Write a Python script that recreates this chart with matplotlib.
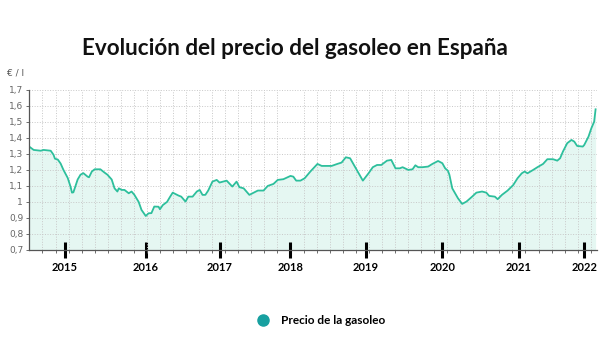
import numpy as np
import matplotlib.pyplot as plt
from matplotlib.lines import Line2D

# Semanas desde el inicio de la serie y precio medio del gasoleo (EUR/l)
semanas = [0, 3, 8, 10, 15, 17, 18, 20, 22, 24, 27, 29, 30, 31, 34, 36, 38, 41, 42, 44,
           46, 50, 53, 55, 58, 60, 62, 63, 65, 67, 70, 72, 74, 77, 79, 82, 84, 86, 88, 91,
           92, 94, 97, 99, 101, 105, 107, 110, 112, 115, 118, 120, 122, 124, 126, 129, 132, 134, 139, 143,
           146, 148, 151, 155, 161, 165, 168, 172, 175, 179, 184, 186, 188, 191, 194, 198, 203, 206, 213, 217,
           220, 223, 226, 228, 232, 235, 239, 242, 245, 248, 252, 255, 258, 261, 263, 267, 270, 272, 274, 277,
           281, 284, 288, 291, 293, 295, 296, 298, 302, 305, 308, 312, 315, 319, 322, 324, 328, 330, 333, 337,
           341, 344, 347, 349, 351, 355, 358, 362, 365, 369, 372, 374, 376, 379, 382, 384, 386, 390, 391, 394,
           396, 398, 399]
precio = [1.345, 1.325, 1.32, 1.325, 1.32, 1.295, 1.27, 1.265, 1.24, 1.20, 1.15, 1.095, 1.058, 1.06, 1.14, 1.17, 1.18, 1.158, 1.154, 1.19,
          1.204, 1.204, 1.183, 1.17, 1.14, 1.085, 1.065, 1.085, 1.075, 1.075, 1.054, 1.065, 1.044, 1.0, 0.95, 0.912, 0.929, 0.93, 0.971, 0.97,
          0.954, 0.98, 1.0, 1.03, 1.058, 1.04, 1.033, 1.002, 1.033, 1.033, 1.065, 1.075, 1.044, 1.044, 1.071, 1.127, 1.1375, 1.121, 1.133, 1.096,
          1.127, 1.092, 1.085, 1.044, 1.071, 1.071, 1.1, 1.1125, 1.1375, 1.142, 1.1625, 1.158, 1.133, 1.133, 1.148, 1.19, 1.2375, 1.225, 1.225, 1.2375,
          1.246, 1.279, 1.273, 1.242, 1.179, 1.133, 1.179, 1.217, 1.231, 1.231, 1.258, 1.2625, 1.21, 1.21, 1.217, 1.2, 1.204, 1.229, 1.217, 1.217,
          1.221, 1.2375, 1.256, 1.242, 1.21, 1.194, 1.169, 1.085, 1.023, 0.9875, 1.002, 1.033, 1.058, 1.065, 1.058, 1.0375, 1.033, 1.017, 1.044, 1.071,
          1.106, 1.148, 1.179, 1.19, 1.179, 1.2, 1.217, 1.2375, 1.267, 1.267, 1.258, 1.273, 1.315, 1.367, 1.3875, 1.377, 1.35, 1.346, 1.356, 1.408,
          1.46, 1.502, 1.579]

anios = ['2015', '2016', '2017', '2018', '2019', '2020', '2021', '2022']
anio_semana = [25, 82, 134, 184, 237, 291, 345, 391]

y_ticks = [0.7, 0.8, 0.9, 1.0, 1.1, 1.2, 1.3, 1.4, 1.5, 1.6, 1.7]
y_labels = ['0,7', '0,8', '0,9', '1', '1,1', '1,2', '1,3', '1,4', '1,5', '1,6', '1,7']

line_color = '#2dbf9c'
dot_color = '#17a0a0'

fig = plt.figure(figsize=(6, 3.5), dpi=100)
ax = fig.add_axes([0.049, 0.286, 0.946, 0.457])

ax.fill_between(semanas, precio, 0.7, color=line_color, alpha=0.12, linewidth=0)
ax.plot(semanas, precio, color=line_color, linewidth=1.3)

ax.set_xlim(0, 400)
ax.set_ylim(0.7, 1.7)

# grid
ax.set_xticks(np.arange(9.2, 400, 9.2), minor=True)
ax.set_yticks(y_ticks)
ax.set_yticklabels(y_labels)
ax.grid(which='minor', axis='x', linestyle=':', color='#c8c8c8', linewidth=0.7)
ax.grid(which='major', axis='y', linestyle=':', color='#c8c8c8', linewidth=0.7)

ax.set_xticks(anio_semana)
ax.set_xticklabels(anios, fontsize=8, fontweight='bold', family='Lato')
ax.tick_params(axis='x', which='major', direction='inout', length=12, width=2.2,
               color='black', pad=3)
ax.tick_params(axis='x', which='minor', direction='out', length=2.5, width=0.6, color='#555555')
ax.tick_params(axis='y', direction='out', length=2.5, width=0.6, color='#555555',
               labelsize=6.5, labelcolor='#666666', pad=2)

for s in ['top', 'right']:
    ax.spines[s].set_visible(False)
for s in ['left', 'bottom']:
    ax.spines[s].set_color('#555555')
    ax.spines[s].set_linewidth(0.9)

fig.text(0.012, 0.785, '€ / l', fontsize=6.5, color='#555555')
fig.text(0.137, 0.862, 'Evolución del precio del gasoleo en España', fontsize=16.2,
         fontweight='bold', family='Lato', ha='left', va='center', color='#111111')

handle = Line2D([], [], marker='o', linestyle='none', markerfacecolor=dot_color,
                markeredgecolor=dot_color, markersize=8)
fig.legend(handles=[handle], labels=['Precio de la gasoleo'], loc='center',
           bbox_to_anchor=(0.53, 0.083), frameon=False, handletextpad=0.5,
           prop={'weight': 'bold', 'size': 8.5, 'family': 'Lato'})

fig.savefig('out.png', dpi=100)
